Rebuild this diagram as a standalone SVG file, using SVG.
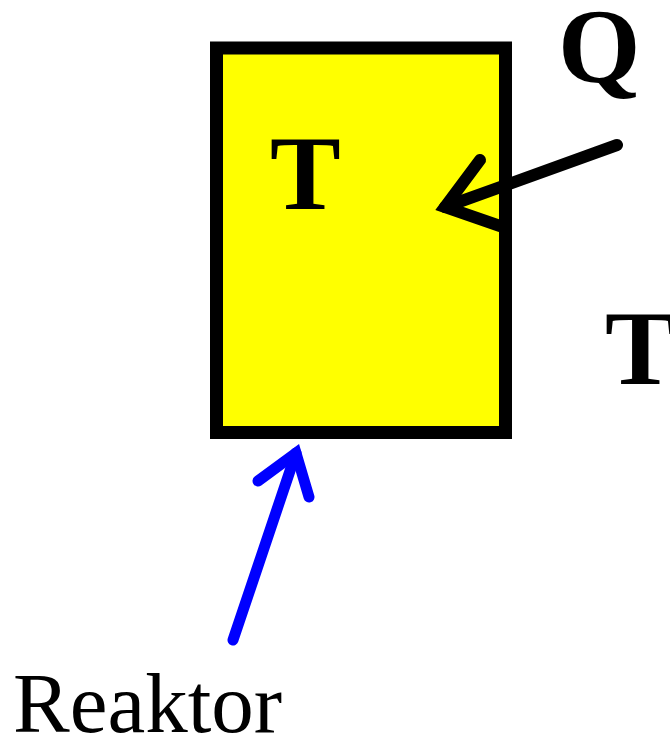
<svg xmlns="http://www.w3.org/2000/svg" width="670" height="736" viewBox="0 0 670 736">
<style>
.b{font-family:"Liberation Serif","Times New Roman",serif;font-weight:bold;fill:#000}
.r{font-family:"Liberation Serif","Times New Roman",serif;fill:#000}
.arr{fill:none;stroke-linecap:round;stroke-linejoin:miter;stroke-miterlimit:10}
</style>
<rect width="670" height="736" fill="#fff"/>
<g id="reactor">
<rect x="216.5" y="48" width="289" height="384.5" fill="#ffff00" stroke="#000" stroke-width="13"/>
<text class="b" x="270" y="209" font-size="106">T</text>
</g>
<g id="connectors">
<path class="arr" d="M617,145 L445,207" stroke="#000" stroke-width="12" stroke-linecap="butt"/>
<path class="arr" d="M480,160 L445,207 L500,226" stroke="#000" stroke-width="12"/>
<path class="arr" d="M233,640 L296,453" stroke="#00f" stroke-width="11" stroke-linecap="butt"/>
<path class="arr" d="M258,481 L296,453 L309,497" stroke="#00f" stroke-width="11"/>
</g>
<g id="Q"><text class="b" x="558" y="82" font-size="106">Q</text></g>
<g id="Tout"><text class="b" x="605" y="384" font-size="106">T</text></g>
<g id="label"><text class="r" x="13" y="732" font-size="85">Reaktor</text></g>
</svg>
